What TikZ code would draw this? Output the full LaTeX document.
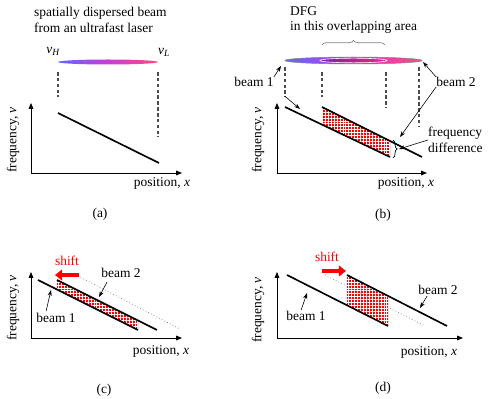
\documentclass[tikz,border=0pt]{standalone}
\usepackage{fontspec}
\setmainfont{Liberation Serif}
\usetikzlibrary{arrows.meta, positioning, calc, patterns.meta, decorations.pathreplacing}

\definecolor{nuhigh}{RGB}{95,105,255}
\definecolor{numid}{RGB}{200,60,215}
\definecolor{nulow}{RGB}{255,75,125}
\definecolor{ovleft}{RGB}{130,30,170}
\definecolor{ovright}{RGB}{230,40,130}

\begin{document}
\begin{tikzpicture}[x=0.03cm, y=-0.03cm,
  lbl/.style={font=\fontsize{11.5}{13.6}\selectfont, inner sep=0pt},
  axis/.style={line width=0.8pt, -{Triangle[length=5pt,width=4pt]}},
  beam/.style={line width=1.4pt},
  oldbeam/.style={gray, line width=0.6pt, dotted},
  guide/.style={gray!60!black, line width=0.9pt, dash pattern=on 3pt off 2pt},
  pointer/.style={line width=0.5pt, -{Stealth[length=5pt,width=3.5pt]}},
  shiftarrow/.style={red, line width=3.5pt, -{Triangle[length=6pt,width=9pt]}},
  dfg/.style={preaction={fill=red}, pattern={Hatch[angle=0,distance=2.5pt,line width=0.3pt]}, pattern color=white},
  pulse/.style={left color=nuhigh, right color=nulow, middle color=numid},
]
\useasboundingbox (0,0) rectangle (490,399);

% (a)
\node[lbl, align=left, anchor=west] (titleA) at (34,20) {spatially dispersed beam\\from an ultrafast laser};
\node[lbl] (nuH) at (53,51) {\itshape ν\textsubscript{H}};
\node[lbl] (nuL) at (164,52) {\itshape ν\textsubscript{L}};
\shade[pulse] (108,62) ellipse [x radius=50, y radius=2.5];
\draw[guide] (58,72) -- (58,97);
\draw[guide] (158,72) -- (158,137);
\coordinate (oA) at (31,173);
\draw[axis] (oA) -- ++(151,0);
\draw[axis] (oA) -- ++(0,-70);
\draw[beam] (58,113) -- (159,163);
\node[lbl, rotate=90] (freqA) at (13,140) {frequency, \itshape ν};
\node[lbl] (posA) at (162,183) {position, \itshape x};
\node[lbl] (capA) at (100,214) {(a)};

% (b)
\node[lbl, align=left, anchor=west] (titleB) at (290,20) {DFG\\in this overlapping area};
\draw[gray, line width=0.6pt, decorate, decoration={brace, amplitude=4pt}] (322,45) -- (385,45);
\shadedraw[pulse, draw=gray, line width=0.4pt] (353.5,60.5) ellipse [x radius=68.5, y radius=3.5];
\shadedraw[left color=ovleft, right color=ovright, draw=white, line width=0.5pt] (353.5,60.5) ellipse [x radius=33.5, y radius=2.3];
\draw[guide] (285,67) -- (285,97);
\draw[guide] (322,72) -- (322,97);
\draw[guide] (386,72) -- (386,108);
\draw[guide] (419,67) -- (419,127);
\coordinate (oB) at (277,173);
\draw[axis] (oB) -- ++(150,0);
\draw[axis] (oB) -- ++(0,-70);
\path[dfg] (322,107) -- (322,124.6) -- (390,157) -- (390,141) -- cycle;
\draw[beam] (285,107) -- (390,157);
\draw[beam] (322,107) -- (422,157);
\draw[line width=0.6pt, decorate, decoration={brace, amplitude=3.5pt}] (393,140) -- (393,158);
\coordinate (fdtip) at (399,149);
\node[lbl, align=left, anchor=west] (fdlbl) at (428,140) {frequency\\difference};
\draw[pointer] (fdlbl.west) -- (fdtip);
\node[lbl] (b1lbl) at (254,82) {beam 1};
\coordinate (b1end) at (281,66);
\coordinate (b1line) at (300,109);
\draw[pointer] (b1lbl.north east) -- (b1end);
\draw[pointer, shorten <=12pt] (b1lbl.south east) -- (b1line);
\node[lbl] (b2lbl) at (456,82) {beam 2};
\coordinate (b2end) at (423,62);
\coordinate (b2line) at (400,137);
\draw[pointer] (b2lbl.north west) -- (b2end);
\draw[pointer] (b2lbl.south west) -- (b2line);
\node[lbl, rotate=90] (freqB) at (258,140) {frequency, \itshape ν};
\node[lbl] (posB) at (406,183) {position, \itshape x};
\node[lbl] (capB) at (383,215) {(b)};

% (c)
\coordinate (oC) at (31,338);
\draw[axis] (oC) -- ++(151,0);
\draw[axis] (oC) -- ++(0,-66);
\path[dfg] (57,280) -- (57,289.5) -- (138,330) -- (138,320.5) -- cycle;
\draw[oldbeam] (78,276) -- (180,329);
\draw[beam] (38,280) -- (138,330);
\draw[beam] (57,280) -- (157,330);
\draw[shiftarrow] (79,275) -- (55,275);
\node[lbl, text=red] (shiftC) at (67,261) {shift};
\node[lbl] (b2lblC) at (121,273) {beam 2};
\coordinate (b2C) at (99,297);
\draw[pointer] ($(b2lblC.south west)+(6,4)$) -- (b2C);
\node[lbl] (b1lblC) at (56,318) {beam 1};
\coordinate (b1C) at (51,290);
\draw[pointer] ($(b1lblC.north west)+(10,-2)$) -- (b1C);
\node[lbl, rotate=90] (freqC) at (13,308) {frequency, \itshape ν};
\node[lbl] (posC) at (161,351) {position, \itshape x};
\node[lbl] (capC) at (104,390) {(c)};

% (d)
\coordinate (oD) at (277,338);
\draw[axis] (oD) -- ++(186,0);
\draw[axis] (oD) -- ++(0,-66);
\path[dfg] (347,275) -- (347,305.3) -- (388,326) -- (388,295.9) -- cycle;
\draw[oldbeam] (325,275) -- (425,326);
\draw[beam] (287,275) -- (388,326);
\draw[beam] (347,275) -- (447,326);
\draw[shiftarrow] (322,271) -- (346,271);
\node[lbl, text=red] (shiftD) at (327,257) {shift};
\node[lbl] (b2lblD) at (438,290) {beam 2};
\coordinate (b2D) at (420,308);
\draw[pointer] ($(b2lblD.south west)+(9,1)$) -- (b2D);
\node[lbl] (b1lblD) at (306,316) {beam 1};
\coordinate (b1D) at (307,293);
\draw[pointer] ($(b1lblD.north west)+(15,-1)$) -- (b1D);
\node[lbl, rotate=90] (freqD) at (258,310) {frequency, \itshape ν};
\node[lbl] (posD) at (429,352) {position, \itshape x};
\node[lbl] (capD) at (383,388) {(d)};
\end{tikzpicture}
\end{document}
